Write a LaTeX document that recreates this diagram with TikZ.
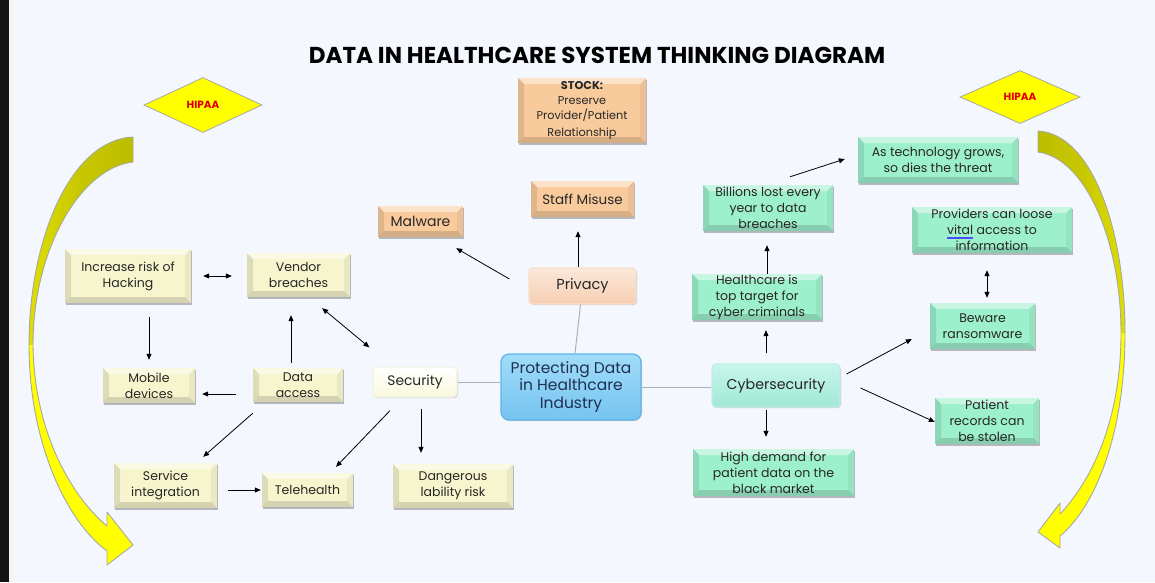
\documentclass[tikz,border=0pt]{standalone}
\usepackage{fontspec}
\setmainfont{Poppins}
\usetikzlibrary{arrows.meta,shadows,calc,shapes.geometric}
\definecolor{bg}{HTML}{F4F8FE}
\definecolor{txt}{HTML}{262626}
\definecolor{yelbox}{HTML}{F7F5CE}
\definecolor{peach}{HTML}{F9CB9C}
\definecolor{mint}{HTML}{9DF0CC}
\definecolor{conn}{HTML}{A9B1BA}
\definecolor{olv}{HTML}{BDBD00}
\definecolor{arrowyel}{HTML}{FFFF00}
\definecolor{arrowedge}{HTML}{A8A8A0}
\definecolor{hipred}{HTML}{E00000}
\definecolor{ctrtxt}{HTML}{1F3050}
\newcommand{\vitalword}{{\setbox0\hbox{vital}\rlap{\raisebox{-2.2pt}{\color{blue!70}\rule{\wd0}{0.4pt}}}\rlap{\raisebox{-3.4pt}{\color{blue!70}\rule{\wd0}{0.4pt}}}\box0}}
\tikzset{
  bev/.style={path picture={
    \coordinate (pA) at (path picture bounding box.north west);
    \coordinate (pB) at (path picture bounding box.south east);
    \coordinate (pC) at (path picture bounding box.north east);
    \coordinate (pD) at (path picture bounding box.south west);
    \fill[white,opacity=0.45] (pA) -- (pC) -- ($(pC)+(-6pt,-6pt)$) -- ($(pA)+(6pt,-6pt)$) -- cycle;
    \fill[black,opacity=0.10] (pA) -- ($(pA)+(6pt,-6pt)$) -- ($(pD)+(6pt,6pt)$) -- (pD) -- cycle;
    \fill[black,opacity=0.14] (pD) -- ($(pD)+(6pt,6pt)$) -- ($(pB)+(-6pt,6pt)$) -- (pB) -- cycle;
    \fill[black,opacity=0.05] (pB) -- ($(pB)+(-6pt,6pt)$) -- ($(pC)+(-6pt,-6pt)$) -- (pC) -- cycle;
  }},
  box/.style={rectangle, inner sep=0pt, align=center, text=txt,
    font=\fontsize{12.5}{16}\selectfont,
    drop shadow={shadow xshift=1.2pt,shadow yshift=-1.5pt,opacity=0.25,fill=black}, bev},
  ybox/.style={box, fill=yelbox},
  pbox/.style={box, fill=peach},
  gbox/.style={box, fill=mint},
  rbox/.style={rectangle, rounded corners=4pt, inner sep=0pt, align=center, text=txt,
    font=\fontsize{14}{16}\selectfont, line width=1.2pt,
    drop shadow={shadow xshift=1pt,shadow yshift=-1.2pt,opacity=0.18,fill=black}},
  hip/.style={diamond, aspect=2.15, inner sep=0pt, fill=arrowyel, draw=arrowedge, line width=0.8pt,
    text=hipred, font=\fontsize{10.5}{11}\selectfont\bfseries},
  arr/.style={-{Triangle[length=6pt,width=5pt]}, line width=0.8pt, black},
  darr/.style={{Triangle[length=6pt,width=5pt]}-{Triangle[length=6pt,width=5pt]}, line width=0.8pt, black},
  gline/.style={conn, line width=1pt}
}
\begin{document}
\begin{tikzpicture}[x=1pt,y=-1pt]
\useasboundingbox (0,0) rectangle (1155,582);
\fill[bg] (0,0) rectangle (1155,582);
\fill[black!92] (0,0) rectangle (9,582);
\fill[black!4] (9,0) rectangle (15,582);

% title
\node[font=\fontsize{23}{26}\selectfont\bfseries, text=black] (title) at (597,55) {DATA IN HEALTHCARE SYSTEM THINKING DIAGRAM};

% curved arrows
\fill[arrowyel] (133,137) .. controls (70,140) and (29,240) .. (29,345) .. controls (29,440) and (65,520) .. (107,551) -- (107,565) -- (133,545) -- (107,512) -- (107,526) .. controls (70,495) and (34,430) .. (33,345) .. controls (33,250) and (80,168) .. (133,162) -- cycle;
\shade[left color=olv!50!arrowyel, right color=olv, middle color=olv!85!arrowyel] (133,137) .. controls (70,140) and (29,240) .. (29,345) -- (33,345) .. controls (33,250) and (80,168) .. (133,162) -- cycle;
\draw[arrowedge, line width=0.9pt, line join=round] (133,137) .. controls (70,140) and (29,240) .. (29,345) .. controls (29,440) and (65,520) .. (107,551) -- (107,565) -- (133,545) -- (107,512) -- (107,526) .. controls (70,495) and (34,430) .. (33,345) .. controls (33,250) and (80,168) .. (133,162) -- cycle;

\fill[arrowyel] (1038,131) .. controls (1092,134) and (1125,230) .. (1125,333) .. controls (1125,430) and (1097,505) .. (1060,536) -- (1060,548) -- (1038,532) -- (1060,503) -- (1060,514) .. controls (1092,480) and (1121,420) .. (1121,333) .. controls (1121,240) and (1085,158) .. (1038,152) -- cycle;
\shade[left color=olv, right color=olv!50!arrowyel, middle color=olv!85!arrowyel] (1038,131) .. controls (1092,134) and (1125,230) .. (1125,333) -- (1121,333) .. controls (1121,240) and (1085,158) .. (1038,152) -- cycle;
\draw[arrowedge, line width=0.9pt, line join=round] (1038,131) .. controls (1092,134) and (1125,230) .. (1125,333) .. controls (1125,430) and (1097,505) .. (1060,536) -- (1060,548) -- (1038,532) -- (1060,503) -- (1060,514) .. controls (1092,480) and (1121,420) .. (1121,333) .. controls (1121,240) and (1085,158) .. (1038,152) -- cycle;

% HIPAA
\node[hip, minimum width=118pt, minimum height=55pt] (hipL) at (203,105) {HIPAA};
\node[hip, minimum width=120pt, minimum height=53pt] (hipR) at (1020,97) {HIPAA};

% left (yellow) boxes
\node[ybox, minimum width=126pt, minimum height=54pt] (hack) at (128,276) {Increase risk of\\Hacking};
\node[ybox, minimum width=103pt, minimum height=44pt] (vend) at (298.5,275) {Vendor\\breaches};
\node[ybox, minimum width=92pt, minimum height=35pt] (mob) at (149,385.5) {Mobile\\devices};
\node[ybox, minimum width=90pt, minimum height=34pt] (dacc) at (298,385) {Data\\access};
\node[ybox, minimum width=103pt, minimum height=45pt] (serv) at (165.5,485.5) {Service\\integration};
\node[ybox, minimum width=91pt, minimum height=34pt] (tele) at (307.5,490) {Telehealth};
\node[ybox, minimum width=120pt, minimum height=44pt] (dang) at (453,486) {Dangerous\\lability risk};
\node[rbox, top color=white, bottom color=yelbox!70!white, draw=yelbox!80!gray!40, font=\fontsize{13.8}{16}\selectfont, minimum width=84pt, minimum height=30pt] (sec) at (415,382) {Security};

% center
\node[rbox, rounded corners=8pt, top color={rgb,255:red,160;green,220;blue,250}, bottom color={rgb,255:red,118;green,196;blue,240}, draw={rgb,255:red,95;green,180;blue,230}, text=ctrtxt, font=\fontsize{15.5}{17.5}\selectfont, minimum width=140pt, minimum height=66pt] (ctr) at (571,387) {Protecting Data\\in Healthcare\\Industry};

% peach boxes
\node[rbox, top color={rgb,255:red,252;green,232;blue,218}, bottom color={rgb,255:red,246;green,206;blue,178}, draw={rgb,255:red,248;green,222;blue,204}, font=\fontsize{14.5}{16}\selectfont, minimum width=107pt, minimum height=36pt] (priv) at (582.5,286) {Privacy};
\node[pbox, font=\fontsize{13.5}{15}\selectfont, minimum width=103pt, minimum height=36pt] (staff) at (582.5,199) {Staff Misuse};
\node[pbox, font=\fontsize{14}{15}\selectfont, minimum width=85pt, minimum height=31pt] (malw) at (420.5,221.5) {Malware};
\node[pbox, font=\fontsize{11.3}{15}\selectfont, minimum width=128pt, minimum height=65pt] (stock) at (582,110.5) {\textbf{STOCK:}\\Preserve\\Provider/Patient\\[2pt]Relationship};

% green boxes
\node[gbox, minimum width=130pt, minimum height=46pt] (bill) at (768,208) {Billions lost every\\year to data\\breaches};
\node[gbox, minimum width=130pt, minimum height=46pt] (hc) at (757,297) {Healthcare is\\top target for\\cyber criminals};
\node[gbox, minimum width=160pt, minimum height=46pt] (tech) at (938,160) {As technology grows,\\so dies the threat};
\node[gbox, minimum width=160pt, minimum height=46pt] (prov) at (992,230) {Providers can loose\\\vitalword{} access to\\information};
\node[gbox, minimum width=105pt, minimum height=46pt] (bew) at (982.5,326) {Beware\\ransomware};
\node[gbox, minimum width=104pt, minimum height=46pt] (pat) at (987,421) {Patient\\records can\\be stolen};
\node[gbox, minimum width=161pt, minimum height=47pt] (high) at (773.5,472.5) {High demand for\\patient data on the\\black market};
\node[rbox, top color={rgb,255:red,200;green,246;blue,234}, bottom color={rgb,255:red,160;green,232;blue,212}, draw={rgb,255:red,190;green,238;blue,226}, font=\fontsize{14.2}{16}\selectfont, minimum width=128pt, minimum height=43pt] (cyb) at (776,385.5) {Cybersecurity};

% gray connectors from center
\draw[gline] (sec.east) -- (sec.east -| ctr.west);
\draw[gline] ([xshift=4pt]ctr.north) -- ([xshift=-2pt]priv.south);
\draw[gline] (ctr.east) -- (ctr.east -| cyb.west);

% left arrows
\draw[darr, shorten <=12pt, shorten >=15pt] (hack.east) -- (hack.east -| vend.west);
\draw[arr, shorten <=14pt, shorten >=8pt] (mob.north |- hack.south) -- (mob.north);
\draw[arr, shorten <=5pt, shorten >=18pt] ([xshift=-7pt]dacc.north) -- ([xshift=-7pt]dacc.north |- vend.south);
\draw[arr, shorten <=17pt, shorten >=7pt] ([yshift=-9pt]dacc.west) -- ([yshift=-9pt]dacc.west -| mob.east);
\draw[arr] ([yshift=-11pt]dacc.south west) -- ([xshift=-14pt,yshift=6pt]serv.north east);
\draw[arr, shorten <=11pt, shorten >=1pt] (serv.east |- tele.west) -- (tele.west);
\draw[darr] ([xshift=-28pt,yshift=-11pt]vend.south east) -- ([xshift=-3pt,yshift=19pt]sec.north west);
\draw[arr] ([xshift=-25pt,yshift=-13pt]sec.south) -- ([xshift=28.5pt,yshift=6pt]tele.north);
\draw[arr, shorten <=11pt, shorten >=11pt] ([xshift=6pt]sec.south) -- ([xshift=6pt]sec.south |- dang.north);

% privacy arrows
\draw[arr] ([xshift=-19pt,yshift=7pt]priv.west) -- ([xshift=-7pt,yshift=-11pt]malw.south east);
\draw[arr, shorten >=14pt] ([xshift=-4.5pt]priv.north) -- ([xshift=-4.5pt]priv.north |- staff.south);

% cyber arrows
\draw[arr, shorten <=10pt, shorten >=10pt] ([xshift=-10pt]cyb.north) -- ([xshift=-10pt]cyb.north |- hc.south);
\draw[arr, shorten >=14pt] ([xshift=10pt]hc.north) -- ([xshift=10pt]hc.north |- bill.south);
\draw[arr] ([xshift=22pt,yshift=8pt]bill.north) -- ([xshift=-13pt,yshift=1pt]tech.west);
\draw[darr, shorten <=17pt, shorten >=5pt] ([xshift=-5pt]prov.south) -- ([xshift=-5pt]prov.south |- bew.north);
\draw[arr] ([xshift=6pt,yshift=11.5pt]cyb.east) -- ([xshift=-18pt,yshift=-13pt]bew.west);
\draw[arr] ([xshift=20pt,yshift=-2.5pt]cyb.east) -- ([yshift=-1pt]pat.west);
\draw[arr, shorten <=2pt, shorten >=12pt] ([xshift=-10pt]cyb.south) -- ([xshift=-10pt]cyb.south |- high.north);
\end{tikzpicture}
\end{document}
